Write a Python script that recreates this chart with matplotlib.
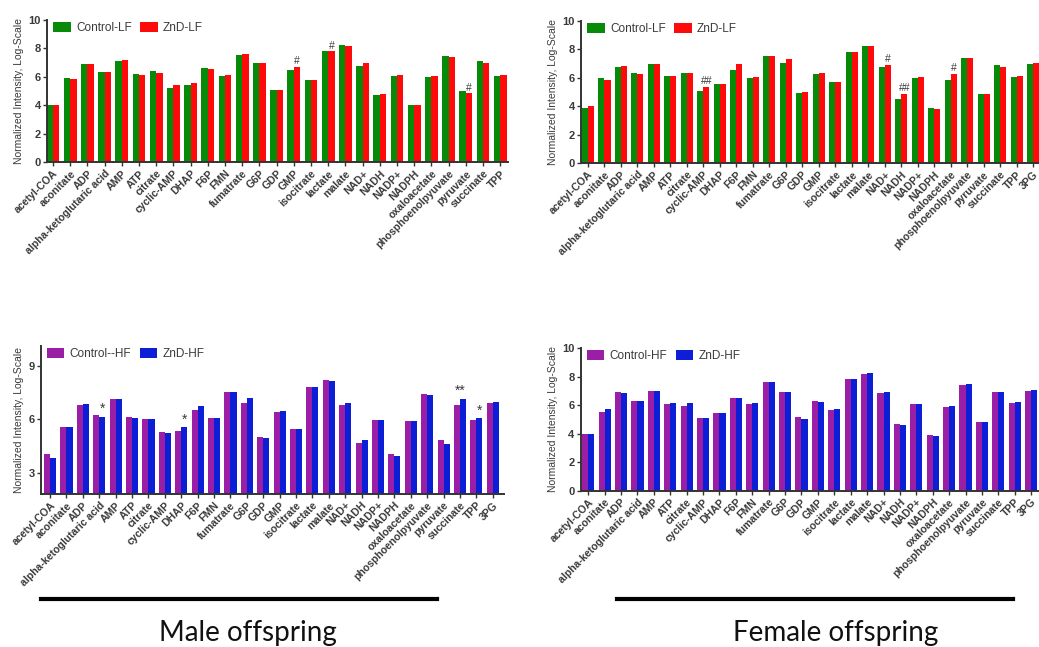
import numpy as np
import matplotlib
matplotlib.use("Agg")
from matplotlib import pyplot as plt

plt.rcParams['font.family'] = ['Liberation Sans', 'DejaVu Sans']

metabolites = ["acetyl-COA", "aconitate", "ADP", "alpha-ketoglutaric acid", "AMP", "ATP",
               "citrate", "cyclic-AMP", "DHAP", "F6P", "FMN", "fumatrate", "G6P", "GDP",
               "GMP", "isocitrate", "lactate", "malate", "NAD+", "NADH", "NADP+", "NADPH",
               "oxaloacetate", "phosphoenolpyuvate", "pyruvate", "succinate", "TPP", "3PG"]

# male, low fat (no 3PG in this panel)
male_ctrl_lf = [4.0, 5.9, 6.9, 6.35, 7.1, 6.2, 6.4, 5.25, 5.45, 6.6, 6.05, 7.55, 7.0, 5.1,
                6.5, 5.75, 7.85, 8.25, 6.8, 4.7, 6.05, 4.05, 6.0, 7.45, 5.0, 7.1, 6.05]
male_znd_lf = [4.0, 5.85, 6.9, 6.35, 7.2, 6.1, 6.3, 5.4, 5.6, 6.55, 6.15, 7.6, 7.0, 5.05,
               6.7, 5.75, 7.8, 8.2, 6.95, 4.8, 6.15, 4.05, 6.05, 7.4, 4.85, 7.0, 6.15]

# female, low fat
fem_ctrl_lf = [3.85, 5.95, 6.75, 6.3, 6.95, 6.1, 6.35, 5.1, 5.55, 6.55, 5.95, 7.5, 7.0, 4.95,
               6.25, 5.7, 7.8, 8.2, 6.75, 4.5, 6.0, 3.9, 5.85, 7.4, 4.85, 6.9, 6.05, 6.95]
fem_znd_lf = [4.05, 5.85, 6.85, 6.25, 6.95, 6.15, 6.3, 5.35, 5.55, 6.95, 6.05, 7.55, 7.3, 5.0,
              6.3, 5.7, 7.8, 8.2, 6.9, 4.85, 6.05, 3.8, 6.25, 7.4, 4.85, 6.75, 6.15, 7.0]

# male, high fat
male_ctrl_hf = [4.05, 5.58, 6.8, 6.24, 7.12, 6.1, 6.0, 5.27, 5.34, 6.52, 6.05, 7.55, 6.93, 5.02,
                6.43, 5.45, 7.8, 8.2, 6.8, 4.69, 5.96, 4.03, 5.9, 7.4, 4.84, 6.8, 5.96, 6.93]
male_znd_hf = [3.8, 5.55, 6.86, 6.15, 7.12, 6.09, 6.02, 5.23, 5.55, 6.75, 6.09, 7.55, 7.21, 4.93,
               6.48, 5.45, 7.8, 8.17, 6.9, 4.84, 5.96, 3.94, 5.9, 7.35, 4.6, 7.14, 6.05, 6.97]

# female, high fat
fem_ctrl_hf = [3.96, 5.5, 6.96, 6.3, 7.0, 6.09, 5.95, 5.13, 5.43, 6.53, 6.09, 7.61, 6.96, 5.15,
               6.3, 5.67, 7.87, 8.2, 6.84, 4.68, 6.09, 3.89, 5.9, 7.42, 4.8, 6.96, 6.14, 7.03]
fem_znd_hf = [3.98, 5.71, 6.89, 6.3, 7.0, 6.14, 6.18, 5.08, 5.43, 6.49, 6.14, 7.63, 6.91, 5.03,
              6.25, 5.71, 7.85, 8.24, 6.91, 4.61, 6.07, 3.86, 5.95, 7.49, 4.85, 6.96, 6.2, 7.07]

# significance marks: (index, which bar, text)
marks_male_lf = [(14, 1, "#"), (16, 1, "#"), (24, 1, "#")]
marks_fem_lf = [(7, 1, "##"), (18, 1, "#"), (19, 1, "##"), (22, 1, "#")]
marks_male_hf = [(3, 1, "*"), (8, 1, "*"), (25, 0.5, "**"), (26, 1, "*")]
marks_fem_hf = []

W, H = 1039, 647
fig = plt.figure(figsize=(W / 100, H / 100), dpi=100)

GREEN, RED = "#078a07", "#fe0a0a"
PURPLE, BLUE = "#9a1fa6", "#0c1ed6"
TXT = "#3a3a3a"


def px_axes(x0, x1, ytop, ybot):
    return fig.add_axes([x0 / W, 1 - ybot / H, (x1 - x0) / W, (ybot - ytop) / H])


def panel(ax, ctrl, znd, c1, c2, lab1, lab2, xlim, ylim, yticks, marks):
    n = len(ctrl)
    x = np.arange(n)
    bw = 0.37
    ax.bar(x - bw / 2, ctrl, bw, color=c1, label=lab1, zorder=2)
    ax.bar(x + bw / 2, znd, bw, color=c2, label=lab2, zorder=2)
    for i, side, s in marks:
        top = max(ctrl[i], znd[i]) if side == 0.5 else znd[i]
        xp = x[i] if side == 0.5 else x[i] + bw / 2
        ax.text(xp, top + 0.05, s, ha="center", va="bottom", fontsize=10 if "*" in s else 7.5,
                color=TXT)
    ax.set_xlim(*xlim)
    ax.set_ylim(*ylim)
    ax.set_yticks(yticks)
    ax.set_xticks(x)
    ax.set_xticklabels(metabolites[:n], rotation=45, ha="right", rotation_mode="anchor",
                       fontsize=7.6, fontweight="bold", color=TXT)
    for lbl in ax.get_yticklabels():
        lbl.set_fontweight("bold")
        lbl.set_color(TXT)
        lbl.set_fontsize(8)
    ax.tick_params(axis="both", length=3, width=1, color="#333333", pad=1.5)
    for sp in ["top", "right"]:
        ax.spines[sp].set_visible(False)
    for sp in ["left", "bottom"]:
        ax.spines[sp].set_linewidth(1.4)
        ax.spines[sp].set_color("#333333")
    ax.set_ylabel("Normalized Intensity, Log-Scale", fontsize=7.5, color=TXT, labelpad=3)
    ax.legend(loc="upper left", bbox_to_anchor=(-0.01, 1.06), ncol=2, frameon=False,
              fontsize=8.5, handlelength=1.5, handleheight=0.9, columnspacing=0.7,
              handletextpad=0.45, labelcolor=TXT)


ax1 = px_axes(47, 508, 20, 162.3)
panel(ax1, male_ctrl_lf, male_znd_lf, GREEN, RED, "Control-LF", "ZnD-LF",
      (-0.35, 26.45), (0, 10), [0, 2, 4, 6, 8, 10], marks_male_lf)

ax2 = px_axes(581, 1043, 20.7, 163.3)
panel(ax2, fem_ctrl_lf, fem_znd_lf, GREEN, RED, "Control-LF", "ZnD-LF",
      (-0.42, 27.6), (0, 10), [0, 2, 4, 6, 8, 10], marks_fem_lf)

ax3 = px_axes(40.7, 504.3, 346.3, 494)
panel(ax3, male_ctrl_hf, male_znd_hf, PURPLE, BLUE, "Control--HF", "ZnD-HF",
      (-0.57, 27.7), (1.8, 10.1), [3, 6, 9], marks_male_hf)

ax4 = px_axes(580.7, 1041, 348.3, 490.7)
panel(ax4, fem_ctrl_hf, fem_znd_hf, PURPLE, BLUE, "Control-HF", "ZnD-HF",
      (-0.46, 27.6), (0, 10), [0, 2, 4, 6, 8, 10], marks_fem_hf)

# group bars and captions under the panels
fig.add_artist(plt.Line2D([40.7 / W, 437 / W], [1 - 599 / H, 1 - 599 / H], color="black", lw=3))
fig.add_artist(plt.Line2D([616.7 / W, 1013 / W], [1 - 599 / H, 1 - 599 / H], color="black", lw=3))
fig.text(248 / W, 1 - 633 / H, "Male offspring", ha="center", va="center", fontsize=20,
         family=["Lato", "DejaVu Sans"], color="#111111")
fig.text(836 / W, 1 - 633 / H, "Female offspring", ha="center", va="center", fontsize=20,
         family=["Lato", "DejaVu Sans"], color="#111111")

fig.savefig("out.png", dpi=100)
